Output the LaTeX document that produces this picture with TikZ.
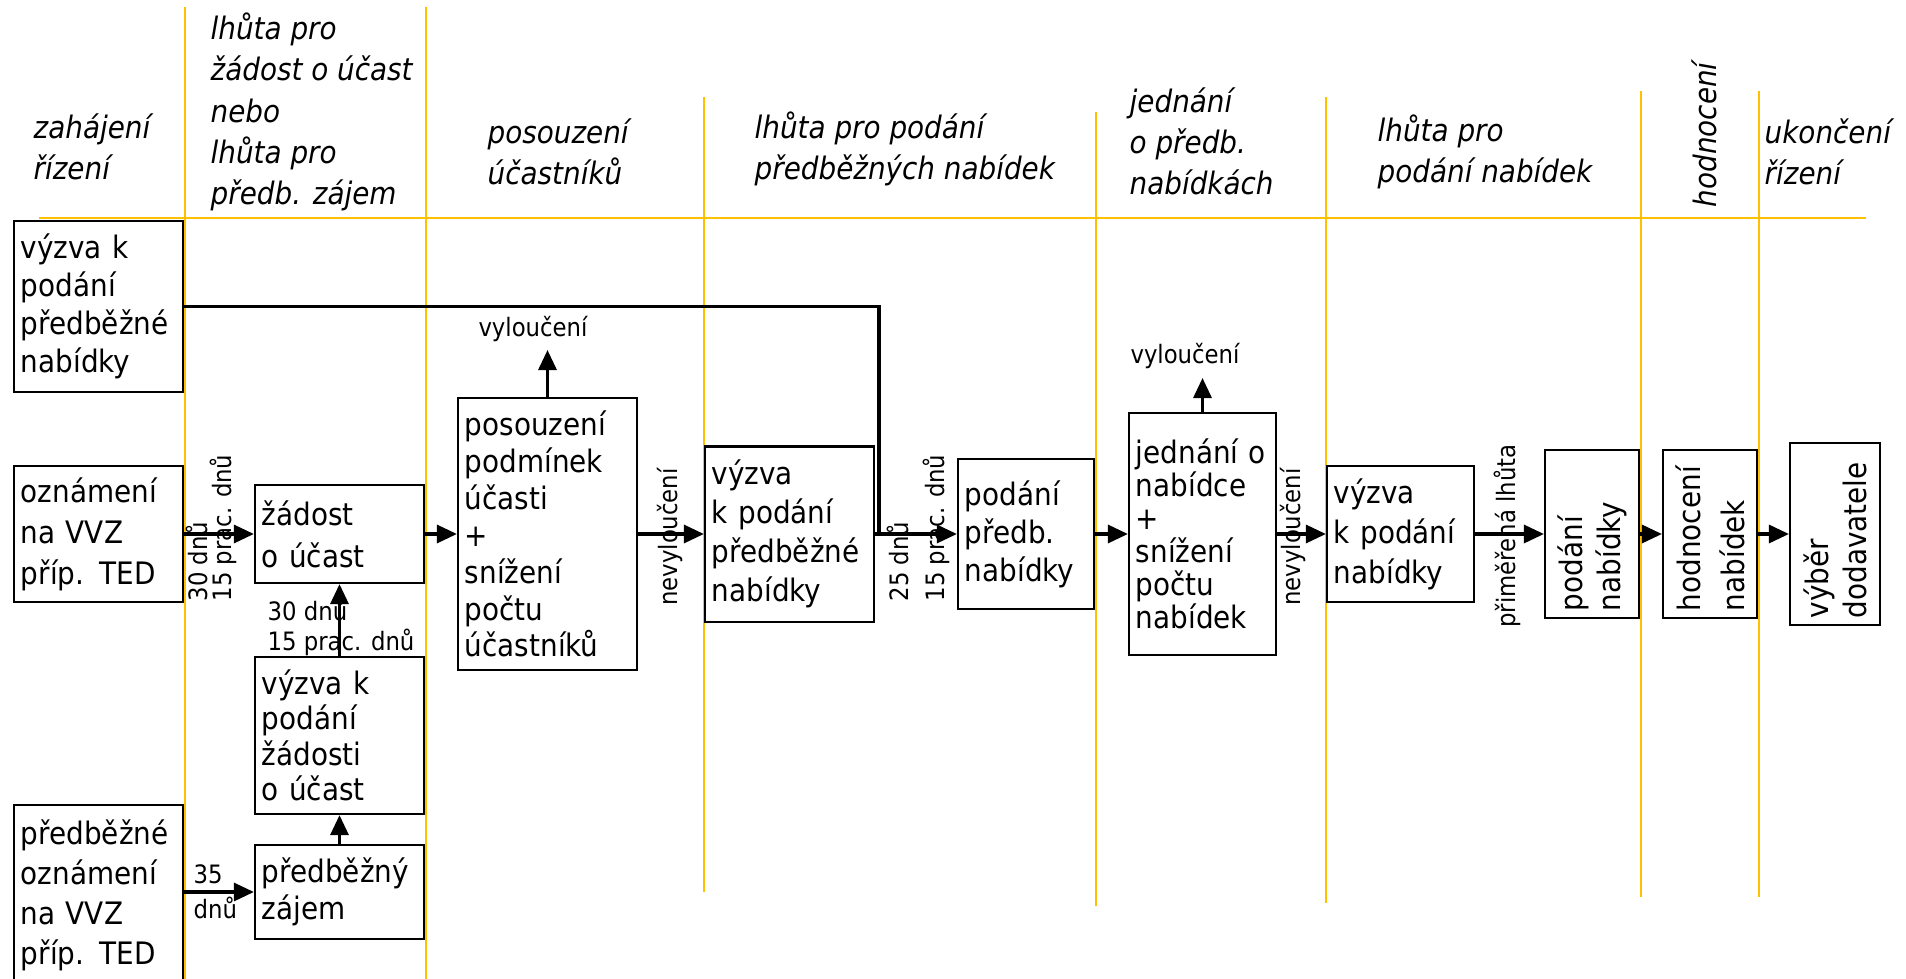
\documentclass[tikz,border=0pt]{standalone}
\usepackage{fontspec}
\setmainfont{DejaVu Sans Condensed}
\usetikzlibrary{arrows.meta}
\usetikzlibrary{calc}
\definecolor{stripe}{HTML}{FFC000}
\tikzset{
  box/.style={draw, line width=0.6pt, align=left, inner xsep=0.07cm, inner ysep=0pt,
    font=\fontsize{8.8}{11.2}\selectfont},
  lead/.style={font=\fontsize{8.8}{#1}\selectfont},
  phase/.style={align=left, anchor=west, inner sep=0pt, font=\fontsize{8.8}{11.7}\selectfont\itshape},
  note/.style={align=left, inner sep=0pt, font=\fontsize{7.2}{#1}\selectfont},
  note/.default=8.6,
  arr/.style={line width=0.9pt, -{Triangle[length=0.2cm,width=0.18cm]}},
  conn/.style={line width=0.9pt},
  lane/.style={draw=stripe, line width=0.5pt}
}

\begin{document}
\begin{tikzpicture}[x=0.01cm, y=-0.01cm]
\useasboundingbox (0,0) rectangle (1906,979);

\draw[lane, line width=0.7pt] (39,218) -- (1866,218);
\draw[lane] (185,7) -- (185,979);
\draw[lane] (426,7) -- (426,979);
\draw[lane] (704,97) -- (704,892);
\draw[lane] (1096,112) -- (1096,906);
\draw[lane] (1326,97) -- (1326,903);
\draw[lane] (1641,91) -- (1641,897);
\draw[lane] (1759,91) -- (1759,897);

\node[phase] (h1) at (33,147) {zahájení\\řízení};
\node[phase] (h2) at (210,112) {lhůta pro\\žádost o účast\\nebo\\lhůta pro\\předb. zájem};
\node[phase] (h3) at (487,152) {posouzení\\účastníků};
\node[phase] (h4) at (754,149) {lhůta pro podání\\předběžných nabídek};
\node[phase] (h5) at (1129,141) {jednání\\o předb.\\nabídkách};
\node[phase] (h6) at (1377,152) {lhůta pro\\podání nabídek};
\node[phase, rotate=90] (h7) at (1704,208) {hodnocení};
\node[phase] (h8) at (1764,152) {ukončení\\řízení};

\node[box, lead=10.8, text width=1.55cm, minimum height=1.71cm] (b1) at (98.5,306.5) {výzva k\\podání\\předběžné\\nabídky};
\node[box, lead=11.7, text width=1.55cm, minimum height=1.36cm] (b2) at (98.5,534) {oznámení\\na VVZ\\příp. TED};
\node[box, lead=11.4, text width=1.55cm, minimum height=1.80cm] (b3) at (98.5,895) {předběžné\\oznámení\\na VVZ\\příp. TED};
\node[box, lead=11.9, text width=1.55cm, minimum height=0.98cm] (b4) at (339.5,534) {žádost\\o účast};
\node[box, lead=10.1, text width=1.55cm, minimum height=1.57cm] (b5) at (339.5,735.5) {výzva k\\podání\\žádosti\\o účast};
\node[box, lead=10.5, text width=1.55cm, minimum height=0.94cm] (b6) at (339.5,892) {předběžný\\zájem};
\node[box, lead=10.5, text width=1.65cm, minimum height=2.72cm] (b7) at (547.5,534) {posouzení\\podmínek\\účasti\\+\\snížení\\počtu\\účastníků};
\node[box, lead=11.1, text width=1.55cm, minimum height=1.75cm] (b8) at (789.5,534) {výzva\\k podání\\předběžné\\nabídky};
\node[box, lead=10.8, text width=1.22cm, minimum height=1.50cm] (b9) at (1026,534) {podání\\předb.\\nabídky};
\node[box, lead=9.4, text width=1.33cm, minimum height=2.42cm] (b10) at (1202.5,534) {jednání o\\nabídce\\+\\snížení\\počtu\\nabídek};
\node[box, lead=11.4, text width=1.33cm, minimum height=1.36cm] (b11) at (1400.5,534) {výzva\\k podání\\nabídky};
\node[box, lead=10.8, rotate=90, text width=1.54cm, minimum height=0.94cm] (b12) at (1592,534) {podání\\nabídky};
\node[box, lead=12.5, rotate=90, text width=1.54cm, minimum height=0.94cm] (b13) at (1710,534) {hodnocení\\nabídek};
\node[box, lead=10.8, rotate=90, text width=1.68cm, minimum height=0.90cm] (b14) at (1835,534) {výběr\\dodavatele};

\coordinate (j) at (879,534);
\coordinate (v1) at (547.5,350);
\coordinate (v2) at (1202.5,378);

\draw[conn] (b1.east) -| (j);
\draw[arr] (b2) -- (b4);
\draw[arr] (b4) -- (b7);
\draw[arr] (b7) -- (b8);
\draw[arr] (b8) -- (b9);
\draw[arr] (b9) -- (b10);
\draw[arr] (b10) -- (b11);
\draw[arr] (b11) -- (b12);
\draw[arr] (b12) -- (b13);
\draw[arr] (b13) -- (b14);
\draw[arr] (b5) -- (b4);
\draw[arr] (b6) -- (b5);
\draw[arr] (b3.east |- b6) -- (b6);
\draw[arr] (b7) -- (v1);
\draw[arr] (b10) -- (v2);

\node[note, anchor=base] (x1) at (533,337) {vyloučení};
\node[note, anchor=base] (x2) at (1185,363) {vyloučení};
\node[note=8.5, anchor=west] (d1) at (267,627) {30 dnů\\15 prac. dnů};
\node[note=10, anchor=west] (d2) at (193,892) {35\\dnů};
\node[note=6.8, rotate=90, anchor=west] (d3) at (211,602) {30 dnů\\15 prac. dnů};
\node[note=10.2, rotate=90, anchor=west] (d4) at (918,602) {25 dnů\\15 prac. dnů};
\node[note, rotate=90] (n1) at (670,537) {nevyloučení};
\node[note, rotate=90] (n2) at (1293,537) {nevyloučení};
\node[note, rotate=90] (p1) at (1507,536) {přiměřená lhůta};
\end{tikzpicture}
\end{document}
